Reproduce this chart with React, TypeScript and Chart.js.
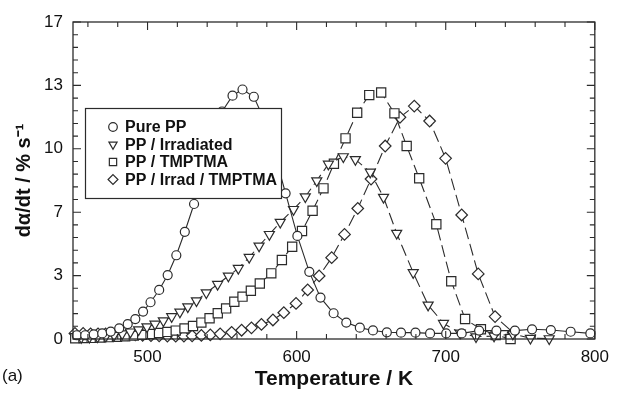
import React, { useEffect, useRef } from 'react';
import Chart from 'chart.js/auto';

const pureT = [452.5,458.2,463.9,469.6,475.3,481,486.7,491.8,497,502,507.8,513.5,519.3,525,531.2,537,544,550,557,563.7,571.3,578,585,592.6,600.5,608.5,616,624.8,633.3,642.4,651.2,660.5,670,679.7,689.5,700.3,710.7,722.4,734,746.4,757.9,770.5,783.8,797];
const pureV = [0.2,0.2,0.25,0.3,0.4,0.57,0.8,1.07,1.47,1.97,2.63,3.43,4.49,5.75,7.24,9.0,10.8,12.2,13.05,13.38,12.99,11.8,10.0,7.81,5.53,3.6,2.22,1.38,0.88,0.61,0.46,0.36,0.34,0.34,0.3,0.3,0.3,0.45,0.45,0.45,0.52,0.48,0.39,0.3];

const irrT = [455.5,461,466.5,472,477.5,483,488.5,494,499.6,505,510.6,516.2,521.7,527,532.8,539.4,547,554.2,560.9,568.2,574.8,581.7,589,597.9,605.8,613.5,621.3,631.3,639.4,649.4,658.3,667.1,678.2,688.2,698.5,709.7,720.3,732.4,745,756.8,769.4];
const irrV = [0.08,0.1,0.12,0.15,0.2,0.28,0.38,0.5,0.66,0.8,0.98,1.2,1.45,1.73,2.05,2.48,2.93,3.38,3.79,4.38,4.99,5.61,6.26,6.95,7.63,8.49,9.38,9.78,9.63,8.95,7.6,5.67,3.56,1.82,0.84,0.32,0.12,0.16,0.27,0.04,0.02];

const tmpT = [451.5,457,462.5,468,474,479.5,485,490.8,496.4,502,507.7,513.3,518.9,524.8,530.5,536.1,541.6,547.1,552.7,558.2,563.7,569.3,575.3,583,590.1,597,603.6,610.7,618,625,632.8,640.6,648.7,656.7,665.6,673.8,682.2,693.7,703.7,713,723.6,733.5,743.5];
const tmpV = [0.04,0.05,0.06,0.08,0.1,0.12,0.15,0.18,0.22,0.27,0.32,0.38,0.45,0.57,0.7,0.88,1.11,1.38,1.64,2.0,2.27,2.59,2.98,3.52,4.24,4.95,5.79,6.88,8.08,9.4,10.76,12.13,13.08,13.22,12.1,10.35,8.62,6.15,3.1,1.07,0.52,0.21,0.0];

const bothT = [451.3,456.8,461.8,466.8,471.9,476.8,481.7,486.7,491.8,496.7,502.3,507.8,513.3,518.9,524.4,529.9,536.1,542.1,548.7,556.4,563.1,569.7,576.4,584.1,591.4,599.6,607.4,615.1,623.5,632.1,641,649.9,659.4,669.3,678.9,689.2,699.9,710.7,721.8,733.1,745.3];
const bothV = [0.3,0.3,0.28,0.28,0.27,0.26,0.25,0.24,0.22,0.2,0.18,0.17,0.16,0.15,0.16,0.17,0.19,0.22,0.28,0.36,0.47,0.6,0.78,1.02,1.41,1.91,2.63,3.38,4.36,5.61,7.0,8.58,10.35,11.89,12.49,11.69,9.69,6.65,3.49,1.2,0.34];

const seriesNames = ['Pure PP', 'PP / Irradiated', 'PP / TMPTMA', 'PP / Irrad / TMPTMA'];
const xTickValues = [460,480,500,520,540,560,580,600,620,640,660,680,700,720,740,760,780,800];
const yTickLabels = ['0', '3', '7', '10', '13', '17'];
const Y_MAX = 17;
const X_MIN = 450;
const X_MAX = 800;

const INK = '#2b2b2b';
const FONT = '"Liberation Sans", Arial, Helvetica, sans-serif';

function pts(t: number[], v: number[]) {
  return t.map((x, i) => ({ x, y: v[i] }));
}

function drawSymbol(ctx: CanvasRenderingContext2D, kind: number, x: number, y: number, r: number) {
  ctx.beginPath();
  if (kind === 0) {
    ctx.arc(x, y, r, 0, Math.PI * 2);
  } else if (kind === 1) {
    ctx.moveTo(x - r * 0.95, y - r * 0.55);
    ctx.lineTo(x + r * 0.95, y - r * 0.55);
    ctx.lineTo(x, y + r * 1.1);
    ctx.closePath();
  } else if (kind === 2) {
    ctx.rect(x - r * 0.85, y - r * 0.85, r * 1.7, r * 1.7);
  } else {
    ctx.moveTo(x, y - r * 1.15);
    ctx.lineTo(x + r * 1.15, y);
    ctx.lineTo(x, y + r * 1.15);
    ctx.lineTo(x - r * 1.15, y);
    ctx.closePath();
  }
  ctx.fillStyle = '#fff';
  ctx.fill();
  ctx.stroke();
}

const framePlugin = {
  id: 'frameTicks',
  afterDatasetsDraw(chart: any) {
    const { ctx, chartArea } = chart;
    const { left, right, top, bottom } = chartArea;
    const xs = chart.scales.x;
    const ys = chart.scales.y;
    ctx.save();
    // legend box
    const lx = 85, ly = 108, lw = 196, lh = 90;
    ctx.fillStyle = '#fff';
    ctx.fillRect(lx, ly, lw, lh);
    ctx.strokeStyle = INK;
    ctx.lineWidth = 1.2;
    ctx.strokeRect(lx + 0.5, ly + 0.5, lw, lh);
    ctx.font = 'bold 16px ' + FONT;
    ctx.textBaseline = 'middle';
    ctx.textAlign = 'left';
    const rows = [127, 144.5, 162, 179.5];
    seriesNames.forEach((name, i) => {
      ctx.lineWidth = 1.2;
      ctx.strokeStyle = INK;
      drawSymbol(ctx, i, 113, rows[i], 4.3);
      ctx.fillStyle = '#111';
      ctx.fillText(name, 125, rows[i] + 1);
    });
    // frame
    ctx.strokeStyle = INK;
    ctx.lineWidth = 1.3;
    ctx.strokeRect(left, top, right - left, bottom - top);
    // ticks
    ctx.lineWidth = 1.1;
    ctx.beginPath();
    xTickValues.forEach((v) => {
      const px = xs.getPixelForValue(v);
      const len = v % 100 === 0 ? 8 : 5;
      ctx.moveTo(px, bottom);
      ctx.lineTo(px, bottom - len);
      ctx.moveTo(px, top);
      ctx.lineTo(px, top + len);
    });
    ys.ticks.forEach((t: any, i: number) => {
      const py = ys.getPixelForValue(t.value);
      const len = i % 5 === 0 ? 8 : 5;
      ctx.moveTo(left, py);
      ctx.lineTo(left + len, py);
      ctx.moveTo(right, py);
      ctx.lineTo(right - len, py);
    });
    ctx.stroke();
    // panel tag
    ctx.fillStyle = '#111';
    ctx.font = '17px ' + FONT;
    ctx.textAlign = 'left';
    ctx.fillText('(a)', 2, 376);
    ctx.restore();
  },
};

export default function App() {
  const ref = useRef<HTMLCanvasElement | null>(null);
  useEffect(() => {
    document.body.style.margin = '0';
    const canvas = ref.current!;
    const common = {
      borderColor: INK,
      backgroundColor: '#fff',
      pointBackgroundColor: '#fff',
      pointBorderColor: INK,
      pointBorderWidth: 1.2,
      borderWidth: 1.1,
      tension: 0,
      clip: false as any,
    };
    const chart = new Chart(canvas, {
      type: 'line',
      data: {
        datasets: [
          { ...common, label: seriesNames[0], data: pts(pureT, pureV), pointStyle: 'circle', pointRadius: 4.5 },
          { ...common, label: seriesNames[1], data: pts(irrT, irrV), pointStyle: 'triangle', pointRotation: 180, pointRadius: 5.8, borderDash: [12, 5] },
          { ...common, label: seriesNames[2], data: pts(tmpT, tmpV), pointStyle: 'rect', pointRadius: 6.5, borderDash: [12, 5] },
          { ...common, label: seriesNames[3], data: pts(bothT, bothV), pointStyle: 'rectRot', pointRadius: 5.8, borderDash: [12, 5] },
        ],
      },
      options: {
        responsive: false,
        animation: false,
        devicePixelRatio: 1,
        layout: { padding: { top: 22, right: 17, left: 0, bottom: 0 } },
        plugins: { legend: { display: false }, tooltip: { enabled: false } },
        scales: {
          x: {
            type: 'linear',
            min: X_MIN,
            max: X_MAX,
            grid: { display: false, drawTicks: false },
            border: { display: false },
            afterBuildTicks: (s: any) => { s.ticks = xTickValues.map((v) => ({ value: v })); },
            afterFit: (s: any) => { s.height = 55; },
            ticks: {
              autoSkip: false,
              maxRotation: 0,
              padding: 8,
              color: '#111',
              font: { size: 17, family: FONT },
              callback: (v: any) => (Number(v) % 100 === 0 ? String(v) : ''),
            },
            title: {
              display: true,
              text: 'Temperature / K',
              color: '#111',
              font: { size: 21, weight: 'bold', family: FONT },
              padding: { top: 0, bottom: 2 },
            },
          },
          y: {
            type: 'linear',
            min: 0,
            max: Y_MAX,
            grid: { display: false, drawTicks: false },
            border: { display: false },
            afterBuildTicks: (s: any) => {
              s.ticks = Array.from({ length: 26 }, (_, i) => ({ value: +((i * Y_MAX) / 25).toFixed(3) }));
            },
            afterFit: (s: any) => { s.width = 73; },
            ticks: {
              autoSkip: false,
              padding: 10,
              color: '#111',
              font: { size: 17, family: FONT },
              callback: (_v: any, i: number) => (i % 5 === 0 ? yTickLabels[i / 5] : ''),
            },
            title: {
              display: true,
              text: 'dα/dt / % s⁻¹',
              color: '#111',
              font: { size: 20, weight: 'bold', family: FONT },
              padding: { top: 12, bottom: 0 },
            },
          },
        },
      },
      plugins: [framePlugin],
    });
    return () => chart.destroy();
  }, []);
  return (
    <div style={{ position: 'fixed', left: 0, top: 0, width: 617, height: 394 }}>
      <canvas ref={ref} width={617} height={394} style={{ width: 617, height: 394, display: 'block' }} />
    </div>
  );
}
